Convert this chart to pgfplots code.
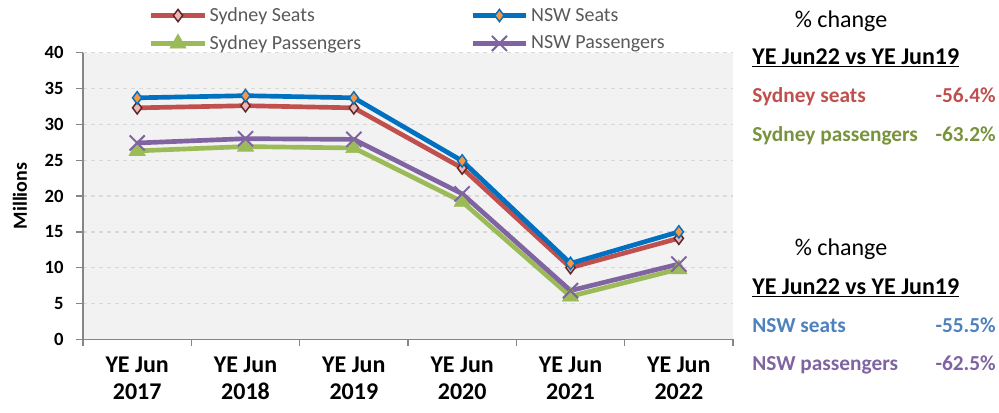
\documentclass[border=0pt]{standalone}
\usepackage{fontspec}
\setmainfont{Carlito}
\usepackage{pgfplots}
\pgfplotsset{compat=1.18}
\definecolor{sydred}{HTML}{C0504D}
\definecolor{sydredfill}{HTML}{E6B9B8}
\definecolor{sydreddark}{HTML}{632523}
\definecolor{nswblue}{HTML}{0070C0}
\definecolor{nsworange}{HTML}{F79646}
\definecolor{sydgreen}{HTML}{9BBB59}
\definecolor{nswpurple}{HTML}{8064A2}
\definecolor{txtgreen}{HTML}{77933C}
\definecolor{txtblue}{HTML}{4F81BD}
\definecolor{axgray}{HTML}{868686}
\definecolor{gridgray}{HTML}{D9D9D9}
\definecolor{bggray}{HTML}{F2F2F2}
\definecolor{legtext}{HTML}{595959}
\begin{document}
\begin{tikzpicture}
\useasboundingbox (0,0) rectangle (749.25pt,309pt);
\begin{axis}[
  at={(62.25pt,54.5pt)}, anchor=south west,
  scale only axis, width=487.5pt, height=215pt,
  xmin=-0.5, xmax=5.5, ymin=0, ymax=40,
  axis lines=left, axis line style={-, axgray, line width=1pt},
  axis background/.style={fill=bggray},
  tick align=outside, major tick length=5pt,
  every tick/.style={axgray, line width=1pt},
  xtick={-0.5,0.5,...,5.5}, xticklabels={},
  extra x ticks={0,1,2,3,4,5},
  extra x tick labels={{YE Jun\\2017},{YE Jun\\2018},{YE Jun\\2019},{YE Jun\\2020},{YE Jun\\2021},{YE Jun\\2022}},
  extra x tick style={major tick length=0pt, xmajorgrids=false},
  xticklabel style={align=center, font=\fontsize{18}{20}\selectfont\bfseries, yshift=-10pt},
  ytick={0,5,...,40},
  ymajorgrids, major grid style={dashed, gridgray, line width=1pt},
  yticklabel style={font=\fontsize{14}{16}\selectfont\bfseries, xshift=-6pt},
  /pgf/number format/assume math mode=true,
  ylabel={Millions},
  ylabel style={font=\fontsize{15}{17}\selectfont\bfseries, at={(axis description cs:-0.097,0.5)}, anchor=center},
  legend style={at={(axis description cs:0.095,0.985)}, anchor=south west, draw=none, fill=none,
    font=\fontsize{15}{18}\selectfont, text=legtext, row sep=5pt,
    /tikz/every even column/.append style={column sep=80pt}},
  legend columns=2, legend cell align=left,
  legend image code/.code={\draw[mark repeat=2,mark phase=2] plot coordinates {(0pt,0pt) (20pt,0pt) (40pt,0pt)};},
  clip=false,
]
\addplot[sydred, line width=3.5pt, mark=diamond*, mark size=4.6pt,
  mark options={fill=sydredfill, draw=sydreddark, line width=1.1pt}]
  coordinates {(0,32.3) (1,32.6) (2,32.3) (3,23.9) (4,10.0) (5,14.1)};
\addlegendentry{Sydney Seats}
\addplot[nswblue, line width=3.5pt, mark=diamond*, mark size=4.6pt,
  mark options={fill=nsworange, draw=nswblue, line width=1.1pt}]
  coordinates {(0,33.7) (1,34.0) (2,33.7) (3,24.9) (4,10.6) (5,15.0)};
\addlegendentry{NSW Seats}
\addplot[sydgreen, line width=3.5pt, mark=triangle*, mark size=7pt,
  mark options={fill=sydgreen, draw=sydgreen, line width=0.5pt}]
  coordinates {(0,26.3) (1,26.9) (2,26.7) (3,19.2) (4,6.0) (5,9.8)};
\addlegendentry{Sydney Passengers}
\addplot[nswpurple, line width=3.5pt, mark=x, mark size=8pt,
  mark options={draw=nswpurple, line width=1.5pt}]
  coordinates {(0,27.4) (1,28.0) (2,27.9) (3,20.3) (4,6.8) (5,10.5)};
\addlegendentry{NSW Passengers}
\end{axis}
% right-hand text panel
\node[anchor=base, font=\fontsize{18}{20}\selectfont] at (630.75pt,288.5pt) {\% change};
\node[anchor=base west, inner sep=0pt, font=\fontsize{18}{20}\selectfont\bfseries] at (564pt,261pt) {\underline{YE Jun22 vs YE Jun19}};
\node[anchor=base west, inner sep=0pt, font=\fontsize{16}{18}\selectfont\bfseries, text=sydred] at (564pt,232pt) {Sydney seats};
\node[anchor=base east, inner sep=0pt, font=\fontsize{16}{18}\selectfont\bfseries, text=sydred] at (747pt,232pt) {-56.4\%};
\node[anchor=base west, inner sep=0pt, font=\fontsize{16}{18}\selectfont\bfseries, text=txtgreen] at (564pt,203pt) {Sydney passengers};
\node[anchor=base east, inner sep=0pt, font=\fontsize{16}{18}\selectfont\bfseries, text=txtgreen] at (747pt,203pt) {-63.2\%};
\node[anchor=base, font=\fontsize{18}{20}\selectfont] at (630.75pt,117.75pt) {\% change};
\node[anchor=base west, inner sep=0pt, font=\fontsize{18}{20}\selectfont\bfseries] at (564pt,88.5pt) {\underline{YE Jun22 vs YE Jun19}};
\node[anchor=base west, inner sep=0pt, font=\fontsize{16}{18}\selectfont\bfseries, text=txtblue] at (564pt,60pt) {NSW seats};
\node[anchor=base east, inner sep=0pt, font=\fontsize{16}{18}\selectfont\bfseries, text=txtblue] at (747pt,60pt) {-55.5\%};
\node[anchor=base west, inner sep=0pt, font=\fontsize{16}{18}\selectfont\bfseries, text=nswpurple] at (564pt,31.5pt) {NSW passengers};
\node[anchor=base east, inner sep=0pt, font=\fontsize{16}{18}\selectfont\bfseries, text=nswpurple] at (747pt,31.5pt) {-62.5\%};
\end{tikzpicture}
\end{document}
